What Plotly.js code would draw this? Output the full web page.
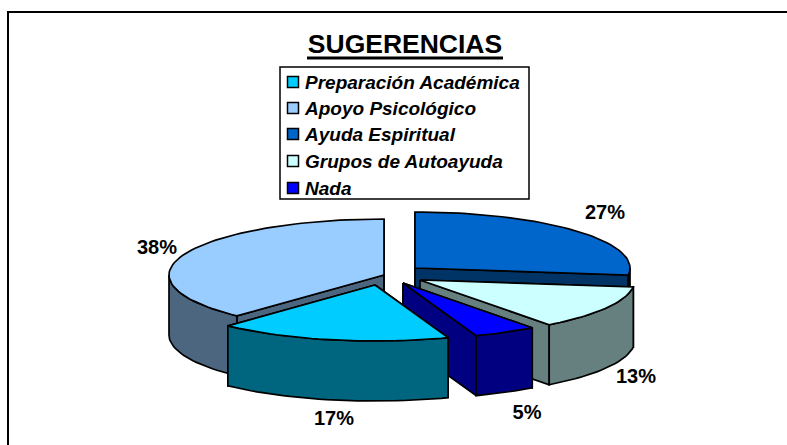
<!DOCTYPE html>
<html>
<head>
<meta charset="utf-8">
<script src="https://cdn.plot.ly/plotly-3.0.1.min.js"></script>
<style>html,body{margin:0;padding:0;background:#fff}#c{width:787px;height:445px}</style>
</head>
<body>
<div id="c"></div>
<script>
// Data
const categories = ["Preparación Académica","Apoyo Psicológico","Ayuda Espiritual","Grupos de Autoayuda","Nada"];
const values = [17,38,27,13,5];
const topColors = ["#00CCFF","#99CCFF","#0066CC","#CCFFFF","#0000FF"];
const sideColors = ["#006680","#4C6680","#003366","#668080","#000080"];

// Pie projection parameters
const firstAngle = 162;               // degrees clockwise from 12 o'clock for the first category
const radiusX = 215, radiusY = 56, depth = 60;
const explodeX = [375,384,415,420,403];
const explodeY = [285,275,268,280,283];
const drawOrder = [2,1,3,4,0];
const labelX = [334,157,605,636,527];
const labelY = [420,249,214,378,414];
const legendX = 293, legendTextX = 305;
const legendY = [82,108,134,161,188];
const legendTextY = [84,110,136,163,190];

const total = values.reduce((a,b)=>a+b,0);
let acc = firstAngle;
const starts = [], ends = [];
values.forEach(v=>{
  if(acc>=359.999) acc-=360;
  starts.push(acc); acc += v/total*360; ends.push(acc);
});

const rad = d=>d*Math.PI/180;
// slight perspective: angles near the viewer open up on screen
const warp = a=>a-1.9*Math.exp(-Math.pow((a-165)/25,2));
const px = (i,a)=>explodeX[i]+radiusX*Math.sin(rad(warp(a)));
const py = (i,a)=>explodeY[i]-radiusY*Math.cos(rad(warp(a)));
function poly(xs,ys,fill){
  return {type:'scatter',mode:'lines',x:xs.concat(xs[0]),y:ys.concat(ys[0]),fill:'toself',fillcolor:fill,
    line:{color:'#000',width:1.7},hoverinfo:'skip',showlegend:false};
}
function arcAngles(a,b){const r=[];const n=Math.max(2,Math.ceil((b-a)/2));for(let k=0;k<=n;k++)r.push(a+(b-a)*k/n);return r;}

const traces=[];
drawOrder.forEach(i=>{
  const a=starts[i], b=ends[i], tx=explodeX[i], ty=explodeY[i];
  // radial cut faces
  [a,b].forEach(t=>{
    traces.push(poly([tx,px(i,t),px(i,t),tx],[ty,py(i,t),py(i,t)+depth,ty+depth],sideColors[i]));
  });
  // visible outer wall: the part of the arc on the front half
  const lo=Math.max(a,90), hi=Math.min(b,270);
  if(hi>lo){
    const ang=arcAngles(lo,hi);
    const xs=ang.map(t=>px(i,t)), ys=ang.map(t=>py(i,t));
    traces.push(poly(xs.concat(xs.slice().reverse()),ys.concat(ys.slice().reverse().map(y=>y+depth)),sideColors[i]));
  }
  // top face
  const ang=arcAngles(a,b);
  traces.push(poly([tx].concat(ang.map(t=>px(i,t))),[ty].concat(ang.map(t=>py(i,t))),topColors[i]));
});

// Percentage labels
traces.push({type:'scatter',mode:'text',x:labelX,y:labelY,text:values.map(v=>v+'%'),textposition:'middle center',
  textfont:{family:'"Liberation Sans",Arial,sans-serif',size:20,color:'#000',weight:700},hoverinfo:'skip',showlegend:false,cliponaxis:false});

// Key rows
traces.push({type:'scatter',mode:'markers',x:categories.map(()=>legendX),y:legendY,
  marker:{symbol:'square',size:11,color:topColors,line:{color:'#000',width:1.5}},
  hoverinfo:'skip',showlegend:false});
traces.push({type:'scatter',mode:'text',x:categories.map(()=>legendTextX),y:legendTextY,text:categories,
  textposition:'middle right',
  textfont:{family:'"Liberation Sans",Arial,sans-serif',size:19,color:'#000',weight:700,style:'italic'},
  hoverinfo:'skip',showlegend:false});

const layout={
  width:787,height:445,margin:{l:0,r:0,t:0,b:0},paper_bgcolor:'#fff',plot_bgcolor:'#fff',showlegend:false,
  xaxis:{range:[0,787],visible:false,fixedrange:true},
  yaxis:{range:[445,0],visible:false,fixedrange:true},
  title:{text:'<b>SUGERENCIAS</b>',x:405/787,xanchor:'center',y:1-44/445,yanchor:'middle',
    font:{family:'"Liberation Sans",Arial,sans-serif',size:26.5,color:'#000'}},
  shapes:[
    {type:'rect',xref:'x',yref:'y',x0:280,x1:529,y0:67,y1:199,line:{color:'#000',width:1.5},fillcolor:'#fff',layer:'below'},
    {type:'line',xref:'x',yref:'y',x0:307,x1:503,y0:58,y1:58,line:{color:'#000',width:3}},
    {type:'line',xref:'x',yref:'y',x0:8,x1:787,y0:12,y1:12,line:{color:'#000',width:2}},
    {type:'line',xref:'x',yref:'y',x0:8,x1:8,y0:11,y1:445,line:{color:'#000',width:2}}
  ]
};
Plotly.newPlot('c',traces,layout,{displayModeBar:false,staticPlot:true});
</script>
</body>
</html>
